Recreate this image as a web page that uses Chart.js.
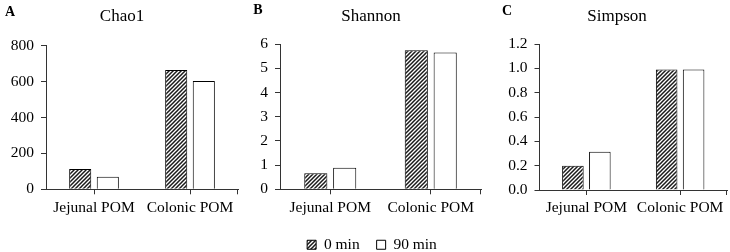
<!DOCTYPE html>
<html><head><meta charset="utf-8">
<script src="https://cdn.jsdelivr.net/npm/chart.js@4"></script>
<style>
html,body{margin:0;padding:0;background:#fff;width:730px;height:252px;overflow:hidden;position:relative}
canvas{position:absolute;top:0}
</style></head><body>
<canvas id="cA" width="243" height="230" style="left:0px"></canvas>
<canvas id="cB" width="241" height="230" style="left:243px"></canvas>
<canvas id="cC" width="246" height="230" style="left:484px"></canvas>
<canvas id="cL" width="730" height="80" style="left:0px;top:220px"></canvas>
<script>
const categories = ['Jejunal POM', 'Colonic POM'];
const seriesNames = ['0 min', '90 min'];
const panelTitles = ['Chao1', 'Shannon', 'Simpson'];
const panelLetters = ['A', 'B', 'C'];
const chao1_0 = [113, 665];
const chao1_90 = [70, 603];
const shannon_0 = [0.66, 5.74];
const shannon_90 = [0.89, 5.65];
const simpson_0 = [0.20, 0.99];
const simpson_90 = [0.315, 0.99];
const chao1Ticks = ['0', '200', '400', '600', '800'];
const shannonTicks = ['0', '1', '2', '3', '4', '5', '6'];
const simpsonTicks = ['0.0', '0.2', '0.4', '0.6', '0.8', '1.0', '1.2'];

const FONT = '"Liberation Serif", "Times New Roman", serif';

function hatch() {
  const c = document.createElement('canvas');
  c.width = 4; c.height = 4;
  const x = c.getContext('2d');
  x.fillStyle = '#fff'; x.fillRect(0, 0, 4, 4);
  x.strokeStyle = '#1a1a1a'; x.lineWidth = 1.5;
  x.beginPath();
  x.moveTo(-1, 5); x.lineTo(5, -1);
  x.moveTo(-1, 1); x.lineTo(1, -1);
  x.moveTo(3, 5); x.lineTo(5, 3);
  x.stroke();
  return x.createPattern(c, 'repeat');
}
const hatchPattern = hatch();

const deco = {
  id: 'deco',
  afterDraw(chart, args, o) {
    const ctx = chart.ctx;
    ctx.save();
    ctx.fillStyle = '#000';
    ctx.textAlign = 'center';
    ctx.textBaseline = 'middle';
    ctx.font = 'bold 14px ' + FONT;
    ctx.fillText(o.letter, o.lx, o.ly);
    ctx.font = '17px ' + FONT;
    ctx.fillText(o.title, o.tx, o.ty);
    const xs = chart.scales.x;
    ctx.strokeStyle = '#333'; ctx.lineWidth = 1;
    const r = Math.round(xs.right) - 0.5;
    ctx.beginPath(); ctx.moveTo(r, xs.top); ctx.lineTo(r, xs.top + 5); ctx.stroke();
    ctx.restore();
  }
};

function panel(id, d0, d90, max, step, tickLabels, yWidth, padR, padT, xH, dopt) {
  return new Chart(document.getElementById(id), {
    type: 'bar',
    data: {
      labels: categories,
      datasets: [
        { label: seriesNames[0], data: d0, backgroundColor: hatchPattern, borderColor: '#000', borderWidth: 1 },
        { label: seriesNames[1], data: d90, backgroundColor: '#fff', borderColor: '#000', borderWidth: 1 }
      ]
    },
    options: {
      responsive: false, animation: false,
      categoryPercentage: 0.575, barPercentage: 0.8,
      layout: { padding: { top: padT, right: padR, left: 0, bottom: 0 } },
      plugins: { legend: { display: false }, tooltip: { enabled: false }, deco: dopt },
      scales: {
        x: {
          offset: true,
          grid: { offset: false, drawOnChartArea: false, drawTicks: true, tickLength: 5, color: '#333' },
          border: { display: true, color: '#333', width: 1 },
          ticks: { font: { family: FONT, size: 15.5 }, color: '#000', padding: 4, maxRotation: 0, autoSkip: false },
          afterFit: s => { s.height = xH; }
        },
        y: {
          min: 0, max: max,
          grid: { drawOnChartArea: false, drawTicks: true, tickLength: 5, color: '#333' },
          border: { display: true, color: '#333', width: 1 },
          ticks: { stepSize: step, font: { family: FONT, size: 15.5 }, color: '#000', padding: 7,
                   callback: (v, i) => tickLabels[i] },
          afterFit: s => { s.width = yWidth; }
        }
      }
    },
    plugins: [deco]
  });
}

panel('cA', chao1_0, chao1_90, 800, 200, chao1Ticks, 46, 5, 45.7, 40.7,
  { letter: panelLetters[0], lx: 10, ly: 12, title: panelTitles[0], tx: 122, ty: 17 });
panel('cB', shannon_0, shannon_90, 6, 1, shannonTicks, 37, 3, 44, 40.7,
  { letter: panelLetters[1], lx: 15, ly: 10, title: panelTitles[1], tx: 128, ty: 17 });
panel('cC', simpson_0, simpson_90, 1.2, 0.2, simpsonTicks, 55.5, 3, 44, 40,
  { letter: panelLetters[2], lx: 23, ly: 11, title: panelTitles[2], tx: 133, ty: 17 });

new Chart(document.getElementById('cL'), {
  type: 'bar',
  data: {
    labels: [],
    datasets: [
      { label: seriesNames[0], data: [], backgroundColor: hatchPattern, borderColor: '#000', borderWidth: 1 },
      { label: seriesNames[1], data: [], backgroundColor: '#fff', borderColor: '#000', borderWidth: 1 }
    ]
  },
  options: {
    responsive: false, animation: false,
    layout: { padding: { left: 14, right: 0, top: 0, bottom: 0 } },
    scales: { x: { display: false }, y: { display: false } },
    plugins: {
      tooltip: { enabled: false },
      legend: {
        display: true, position: 'top',
        labels: { boxWidth: 9, boxHeight: 9, padding: 17, color: '#000', font: { family: FONT, size: 15.5 } }
      }
    }
  }
});
</script>
</body></html>
